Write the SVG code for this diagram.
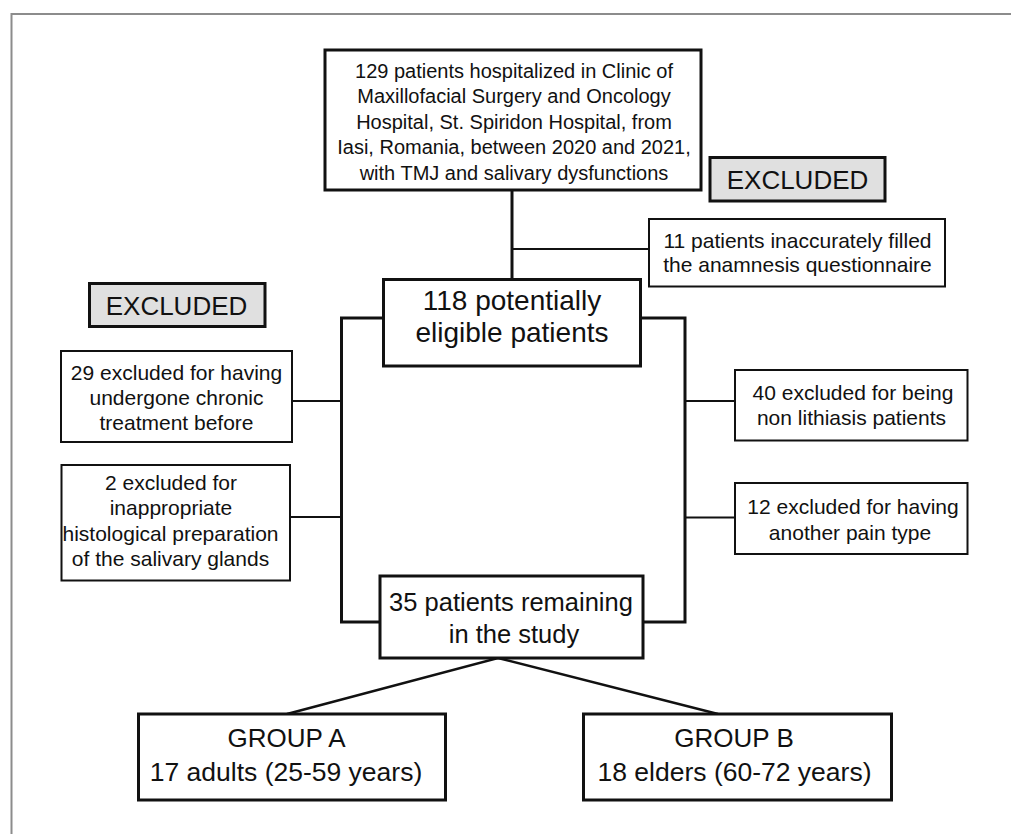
<svg xmlns="http://www.w3.org/2000/svg" width="1011" height="834" viewBox="0 0 1011 834">
<style>
text{font-family:"Liberation Sans",Arial,sans-serif;fill:#111;text-anchor:middle}
.main{fill:#fff;stroke:#111;stroke-width:3}
.side{fill:#fff;stroke:#111;stroke-width:2}
.ex{fill:#e0e0e0;stroke:#111;stroke-width:3}
.thick{fill:none;stroke:#111;stroke-width:3}
.thin{fill:none;stroke:#111;stroke-width:2}
.t20{font-size:20px}
.t21{font-size:21px}
.t26{font-size:26px}
.t28{font-size:28px}
</style>
<rect width="1011" height="834" fill="#fff"/>
<path d="M11.5 834 V14 H1011" fill="none" stroke="#8c8c8c" stroke-width="2"/>
<g id="connectors">
<path class="thick" d="M512 190 V279"/>
<path class="thin" d="M512 249 H649"/>
<path class="thick" d="M383 318 H341.5 V622 H380"/>
<path class="thick" d="M641 318 H685 V622 H643"/>
<path class="thin" d="M292 401 H341.5"/>
<path class="thin" d="M290 517 H341.5"/>
<path class="thin" d="M685 401 H735"/>
<path class="thin" d="M685 517.5 H735"/>
<path fill="none" stroke="#111" stroke-width="2.5" d="M287 714 L498 658 L718 714"/>
</g>
<g id="n-start">
<rect class="main" x="325" y="50" width="376" height="140"/>
<text class="t20" x="514" y="77.5">129 patients hospitalized in Clinic of</text>
<text class="t20" x="514" y="103">Maxillofacial Surgery and Oncology</text>
<text class="t20" x="514" y="128.5">Hospital, St. Spiridon Hospital, from</text>
<text class="t20" x="514" y="154">Iasi, Romania, between 2020 and 2021,</text>
<text class="t20" x="514" y="179.5">with TMJ and salivary dysfunctions</text>
</g>
<g id="n-excluded-right">
<rect class="ex" x="710" y="157.5" width="175" height="43.5"/>
<text class="t26" x="797.5" y="189">EXCLUDED</text>
</g>
<g id="n-11">
<rect class="side" x="649" y="219" width="296" height="67.5"/>
<text class="t21" x="797.5" y="247.5">11 patients inaccurately filled</text>
<text class="t21" x="797.5" y="272">the anamnesis questionnaire</text>
</g>
<g id="n-excluded-left">
<rect class="ex" x="89.5" y="283.5" width="175.5" height="43"/>
<text class="t26" x="176.5" y="315">EXCLUDED</text>
</g>
<g id="n-118">
<rect class="main" x="383.5" y="279.5" width="257" height="86.5"/>
<text class="t28" x="512" y="309.5">118 potentially</text>
<text class="t28" x="512" y="341.5">eligible patients</text>
</g>
<g id="n-29">
<rect class="side" x="61" y="351" width="231" height="91"/>
<text class="t21" x="176.5" y="380">29 excluded for having</text>
<text class="t21" x="176.5" y="405">undergone chronic</text>
<text class="t21" x="176.5" y="429.5">treatment before</text>
</g>
<g id="n-2">
<rect class="side" x="61.5" y="465" width="228.5" height="115.5"/>
<text class="t21" x="171" y="490">2 excluded for</text>
<text class="t21" x="171" y="515">inappropriate</text>
<text class="t21" x="170.5" y="540.5">histological preparation</text>
<text class="t21" x="170.5" y="566">of the salivary glands</text>
</g>
<g id="n-40">
<rect class="side" x="735" y="370" width="232.5" height="70.5"/>
<text class="t21" x="853" y="400">40 excluded for being</text>
<text class="t21" x="851.5" y="425">non lithiasis patients</text>
</g>
<g id="n-12">
<rect class="side" x="735" y="483" width="232.5" height="71"/>
<text class="t21" x="853" y="514">12 excluded for having</text>
<text class="t21" x="850" y="539.5">another pain type</text>
</g>
<g id="n-35">
<rect class="main" x="380" y="576" width="263" height="82"/>
<text class="t26" x="511" y="611" style="font-size:25.5px">35 patients remaining</text>
<text class="t26" x="514" y="642.5" style="font-size:25.5px">in the study</text>
</g>
<g id="n-groupA">
<rect class="main" x="138.5" y="714" width="307" height="86"/>
<text class="t26" x="286.5" y="746.5">GROUP A</text>
<text class="t26" x="286" y="780.5" style="font-size:26.5px">17 adults (25-59 years)</text>
</g>
<g id="n-groupB">
<rect class="main" x="583.5" y="714" width="308" height="86"/>
<text class="t26" x="734" y="746.5">GROUP B</text>
<text class="t26" x="734.5" y="780.5" style="font-size:26.5px">18 elders (60-72 years)</text>
</g>
</svg>
